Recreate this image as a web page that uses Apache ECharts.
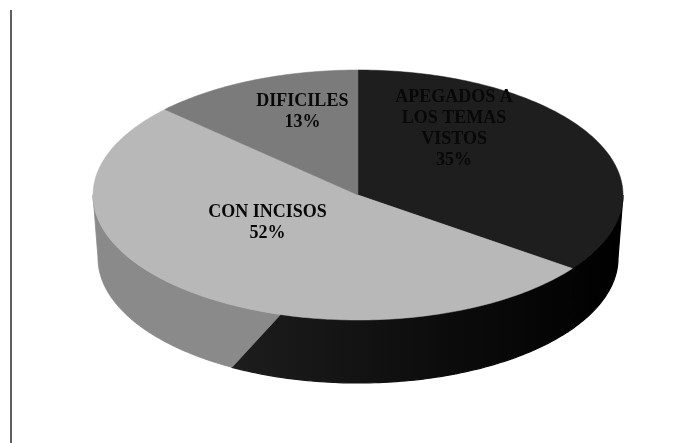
<!DOCTYPE html>
<html>
<head>
<meta charset="utf-8">
<script src="https://cdn.jsdelivr.net/npm/echarts@6/dist/echarts.min.js"></script>
<style>
  html, body { margin: 0; padding: 0; background: #ffffff; }
  #chart { width: 696px; height: 443px; }
</style>
</head>
<body>
<div id="chart"></div>
<script>
// Slices, clockwise from twelve o'clock
const categories = ['APEGADOS A\nLOS TEMAS\nVISTOS', 'CON INCISOS', 'DIFICILES'];
const shares = [35, 52, 13];
const sliceColors = ['#1e1e1e', '#b8b8b8', '#7b7b7b'];

// Label placement relative to each slice's mid-radius point
const labelOffset = [[-22, -38], [-6, -20], [-3, -26]];

// Tilted disc geometry: top face and the (slightly narrower) bottom rim
const TOP = { cx: 358, cy: 195, rx: 265, ry: 125 };
const BOT = { cx: 358, cy: 258, rx: 260, ry: 125 };
const START_ANGLE = -90;          // degrees, screen coordinates, clockwise
const SHADE_TOP = 107, SHADE_BOT = 119; // light/shadow split on the rim

// Rim in shadow darkens towards the right-hand edge
const shadowFill = {
  type: 'linear', x: 230, y: 0, x2: 620, y2: 0, global: true,
  colorStops: [{ offset: 0, color: '#1d1d1d' }, { offset: 0.55, color: '#0c0c0c' }, { offset: 1, color: '#000000' }]
};

const total = shares.reduce((s, v) => s + v, 0);
const cumulative = shares.map((_, i) => shares.slice(0, i).reduce((s, v) => s + v, 0));

function pt(e, deg) {
  const r = deg * Math.PI / 180;
  return [e.cx + e.rx * Math.cos(r), e.cy + e.ry * Math.sin(r)];
}
function arc(e, a, b) {
  const pts = [];
  const n = Math.max(2, Math.ceil(Math.abs(b - a)));
  for (let k = 0; k <= n; k++) pts.push(pt(e, a + (b - a) * k / n));
  return pts;
}
function scale(hex, f) {
  const n = parseInt(hex.slice(1), 16);
  const c = [(n >> 16) & 255, (n >> 8) & 255, n & 255].map(v => Math.round(v * f));
  return 'rgb(' + c.join(',') + ')';
}
function wall(ta, tb, ba, bb) {
  return arc(TOP, ta, tb).concat(arc(BOT, bb, ba));
}

function renderItem(params, api) {
  const i = params.dataIndex;
  const value = api.value(0);
  const a = START_ANGLE + cumulative[i] / total * 360;
  const b = a + value / total * 360;
  const color = sliceColors[i];
  const children = [];

  // Visible rim: front half of the disc (0..180 deg)
  const fa = Math.max(a, 0), fb = Math.min(b, 180);
  if (fb > fa) {
    const sTop = Math.min(fb, SHADE_TOP), sBot = Math.min(fb, SHADE_BOT);
    if (sTop > fa || sBot > fa) {
      children.push({ type: 'polygon', shape: { points: wall(fa, Math.max(fa, sTop), fa, Math.max(fa, sBot)) },
        style: { fill: shadowFill, stroke: shadowFill, lineWidth: 1.2 }, z2: 1 });
    }
    const lTop = Math.max(fa, SHADE_TOP), lBot = Math.max(fa, SHADE_BOT);
    if (fb > lTop || fb > lBot) {
      const c = scale(color, 0.75);
      children.push({ type: 'polygon', shape: { points: wall(Math.min(lTop, fb), fb, Math.min(lBot, fb), fb) },
        style: { fill: c, stroke: c, lineWidth: 0.8 }, z2: 1 });
    }
  }

  // Top face
  children.push({ type: 'polygon',
    shape: { points: [[TOP.cx, TOP.cy]].concat(arc(TOP, a, b)) },
    style: { fill: color, stroke: color, lineWidth: 0.5 }, z2: 2 });

  // Category + percentage label
  const mid = (a + b) / 2 * Math.PI / 180;
  const lx = TOP.cx + 0.5 * TOP.rx * Math.cos(mid) + labelOffset[i][0];
  const ly = TOP.cy + 0.5 * TOP.ry * Math.sin(mid) + labelOffset[i][1];
  children.push({ type: 'text', z2: 10,
    style: { x: lx, y: ly, text: categories[i] + '\n' + value + '%',
      font: 'bold 18px "Liberation Serif", "Times New Roman", serif',
      fill: '#080808', align: 'center', verticalAlign: 'middle', lineHeight: 21 } });

  return { type: 'group', children: children };
}

const chart = echarts.init(document.getElementById('chart'), null, { renderer: 'canvas' });
chart.setOption({
  backgroundColor: '#ffffff',
  animation: false,
  graphic: [{
    type: 'line', shape: { x1: 11, y1: 10, x2: 11, y2: 443 },
    style: { stroke: '#2a2a2a', lineWidth: 1.5 }
  }],
  series: [{
    type: 'custom',
    coordinateSystem: 'none',
    data: shares,
    renderItem: renderItem
  }]
});
</script>
</body>
</html>
